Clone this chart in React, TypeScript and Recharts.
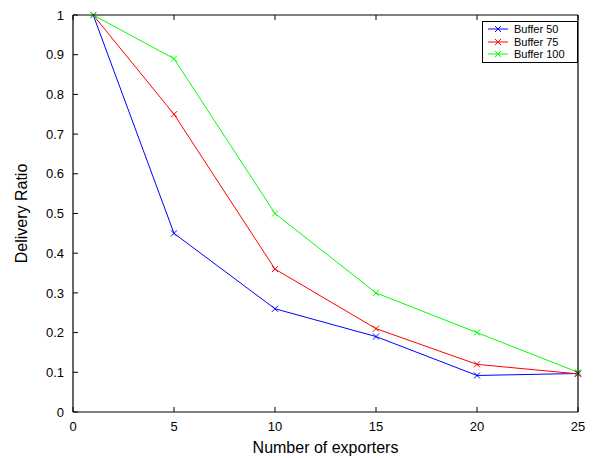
import { LineChart, Line, XAxis, YAxis, Label } from 'recharts'

const exporters = [1, 5, 10, 15, 20, 25]
const buffer50 = [1, 0.45, 0.26, 0.19, 0.092, 0.097]
const buffer75 = [1, 0.75, 0.36, 0.21, 0.12, 0.096]
const buffer100 = [1, 0.89, 0.5, 0.3, 0.2, 0.1]

const xTicks = [0, 5, 10, 15, 20, 25]
const yTicks = [0, 0.1, 0.2, 0.3, 0.4, 0.5, 0.6, 0.7, 0.8, 0.9, 1]

const SERIES = [
  { key: 'b50', name: 'Buffer 50', color: '#0000ff' },
  { key: 'b75', name: 'Buffer 75', color: '#ff0000' },
  { key: 'b100', name: 'Buffer 100', color: '#00ff00' },
]

const W = 593
const H = 458
const PLOT_TOP = 15
const PLOT_BOTTOM = 412
const PLOT_LEFT = 73
const PLOT_RIGHT = 578
const FONT = '"Liberation Sans", Arial, Helvetica, sans-serif'
const TICK_LEN = 5

const data = exporters.map((x, i) => ({
  x,
  b50: buffer50[i],
  b75: buffer75[i],
  b100: buffer100[i],
}))

function Cross({ cx, cy, stroke }: any) {
  if (cx == null || cy == null) return null
  const s = 3
  return (
    <g>
      <line x1={cx - s} y1={cy - s} x2={cx + s} y2={cy + s} stroke={stroke} strokeWidth={1} />
      <line x1={cx - s} y1={cy + s} x2={cx + s} y2={cy - s} stroke={stroke} strokeWidth={1} />
    </g>
  )
}

// bottom ticks; the first and last one also draw the left and right sides of the box
function BottomTick({ x, payload, index }: any) {
  const isEdge = index === 0 || index === xTicks.length - 1
  return (
    <g>
      {isEdge && <line x1={x} x2={x} y1={PLOT_TOP} y2={PLOT_BOTTOM} stroke="#000" strokeWidth={1.2} />}
      <line x1={x} x2={x} y1={PLOT_BOTTOM} y2={PLOT_BOTTOM - TICK_LEN} stroke="#000" />
      <text x={x} y={PLOT_BOTTOM + 10} dy="0.71em" textAnchor="middle" fontSize={13} fill="#000" fontFamily={FONT}>
        {payload.value}
      </text>
    </g>
  )
}

function TopTick({ x }: any) {
  return <line x1={x} x2={x} y1={PLOT_TOP} y2={PLOT_TOP + TICK_LEN} stroke="#000" />
}

// left ticks; the first and last one also draw the bottom and top of the box
function LeftTick({ y, payload, index }: any) {
  const isEdge = index === 0 || index === yTicks.length - 1
  return (
    <g>
      {isEdge && <line x1={PLOT_LEFT} x2={PLOT_RIGHT} y1={y} y2={y} stroke="#000" strokeWidth={1.2} />}
      <line x1={PLOT_LEFT} x2={PLOT_LEFT + TICK_LEN} y1={y} y2={y} stroke="#000" />
      <text x={PLOT_LEFT - 9} y={y} dy="0.355em" textAnchor="end" fontSize={13} fill="#000" fontFamily={FONT}>
        {payload.value}
      </text>
    </g>
  )
}

function RightTick({ y }: any) {
  return <line x1={PLOT_RIGHT} x2={PLOT_RIGHT - TICK_LEN} y1={y} y2={y} stroke="#000" />
}

function LegendBox() {
  return (
    <div
      style={{
        position: 'absolute',
        top: 21,
        left: 482,
        width: 89,
        border: '1px solid #000',
        background: '#fff',
        padding: '1px 0 1px 5px',
        fontFamily: FONT,
        fontSize: 11,
        lineHeight: '12.5px',
      }}
    >
      {SERIES.map((s) => (
        <div key={s.key} style={{ display: 'flex', alignItems: 'center' }}>
          <svg width={20} height={12} style={{ marginRight: 6 }}>
            <line x1={0} x2={20} y1={6} y2={6} stroke={s.color} />
            <line x1={7} y1={3} x2={13} y2={9} stroke={s.color} />
            <line x1={7} y1={9} x2={13} y2={3} stroke={s.color} />
          </svg>
          <span>{s.name}</span>
        </div>
      ))}
    </div>
  )
}

export default function App() {
  return (
    <div style={{ position: 'absolute', left: 0, top: 0, width: W, height: H, background: '#fff' }}>
      <LineChart width={W} height={H} data={data} margin={{ top: 0, right: 0, bottom: 0, left: 0 }}>
        <XAxis
          dataKey="x"
          type="number"
          domain={[0, 25]}
          ticks={xTicks}
          interval={0}
          axisLine={false}
          tickLine={false}
          tick={<BottomTick />}
          height={H - PLOT_BOTTOM}
        >
          <Label
            content={() => (
              <text x={(PLOT_LEFT + PLOT_RIGHT) / 2} y={453} textAnchor="middle" fontSize={16} fill="#000" fontFamily={FONT}>
                Number of exporters
              </text>
            )}
          />
        </XAxis>
        <XAxis
          xAxisId="top"
          dataKey="x"
          type="number"
          orientation="top"
          domain={[0, 25]}
          ticks={xTicks}
          interval={0}
          axisLine={false}
          tickLine={false}
          tick={<TopTick />}
          height={PLOT_TOP}
        />
        <YAxis
          type="number"
          domain={[0, 1]}
          ticks={yTicks}
          interval={0}
          axisLine={false}
          tickLine={false}
          tick={<LeftTick />}
          width={PLOT_LEFT}
        >
          <Label
            content={() => (
              <text
                x={27}
                y={(PLOT_TOP + PLOT_BOTTOM) / 2}
                transform={`rotate(-90 27 ${(PLOT_TOP + PLOT_BOTTOM) / 2})`}
                textAnchor="middle"
                fontSize={16}
                fill="#000"
                fontFamily={FONT}
              >
                Delivery Ratio
              </text>
            )}
          />
        </YAxis>
        <YAxis
          yAxisId="right"
          orientation="right"
          type="number"
          domain={[0, 1]}
          ticks={yTicks}
          interval={0}
          axisLine={false}
          tickLine={false}
          tick={<RightTick />}
          width={W - PLOT_RIGHT}
        />
        {SERIES.map((s) => (
          <Line
            key={s.key}
            dataKey={s.key}
            name={s.name}
            stroke={s.color}
            strokeWidth={1}
            dot={<Cross />}
            activeDot={false}
            isAnimationActive={false}
          />
        ))}
      </LineChart>
      <LegendBox />
    </div>
  )
}
